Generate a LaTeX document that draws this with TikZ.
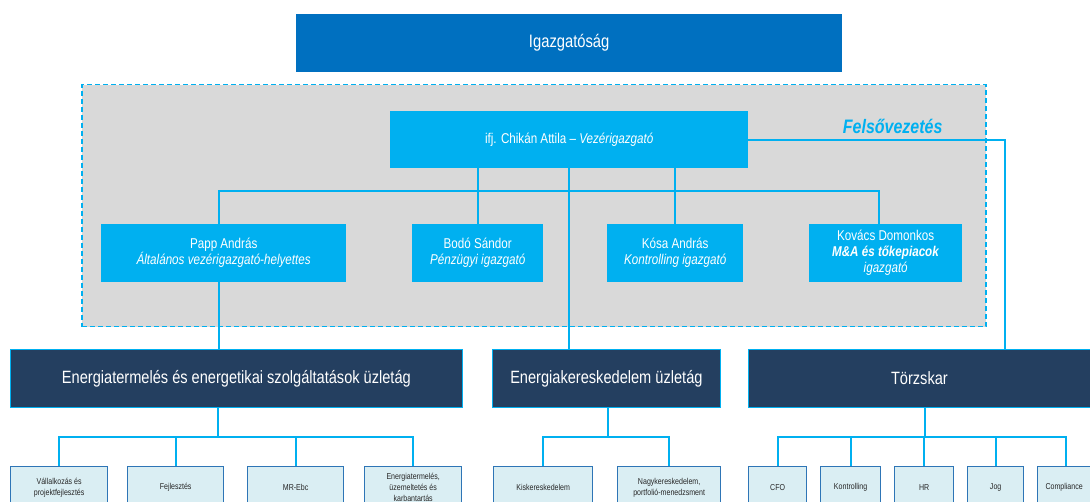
\documentclass[tikz,border=0pt]{standalone}
\usepackage{fontspec}
\setmainfont{Liberation Sans}[FakeStretch=0.82]
\definecolor{topblue}{HTML}{0070C0}
\definecolor{cyanb}{HTML}{00B0F0}
\definecolor{navy}{HTML}{243F60}
\definecolor{graybg}{HTML}{D9D9D9}
\definecolor{lightbox}{HTML}{DAEEF3}
\definecolor{boxline}{HTML}{2E75B6}
\tikzset{
  box/.style={anchor=north west, inner sep=1pt, align=center, text=white},
  topbox/.style={box, fill=topblue, font=\fontsize{18}{21}\selectfont},
  cyanbox/.style={box, fill=cyanb, font=\fontsize{14.2}{16}\selectfont},
  navybox/.style={box, fill=navy, draw=cyanb, line width=0.8pt, font=\fontsize{17.8}{20}\selectfont},
  leafbox/.style={box, fill=lightbox, draw=boxline, line width=1.3pt, text=black!85, font=\fontsize{8.6}{11.2}\selectfont},
  conn/.style={draw=cyanb, line width=1.8pt},
}
\newcommand{\bx}[6]{\node[#1, minimum width={#4-#2}, minimum height={#5-#3}] (#6) at (#2,#3)}
\begin{document}
\begin{tikzpicture}[x=1pt, y=-1pt]
\useasboundingbox (0,0) rectangle (1090,502);
% gray dashed area
\node[anchor=north west, fill=graybg, draw=cyanb, dash pattern=on 5pt off 3pt, line width=1.5pt, minimum width=904, minimum height=242, inner sep=0] (fv) at (81,84) {};
\node[anchor=base east, text=cyanb, font=\fontsize{19.5}{22}\selectfont\bfseries\itshape] (fvlabel) at (946,134) {Felsővezetés};

\bx{topbox}{296}{14}{842}{72}{igaz} {Igazgatóság};
\bx{cyanbox}{390}{111}{748}{168}{ceo} {ifj. Chikán Attila – \textit{Vezérigazgató}};

\bx{cyanbox}{101}{224}{346}{282}{papp} {Papp András\\\textit{Általános vezérigazgató-helyettes}};
\bx{cyanbox}{412}{224}{543}{282}{bodo} {Bodó Sándor\\\textit{Pénzügyi igazgató}};
\bx{cyanbox}{607}{224}{743}{282}{kosa} {Kósa András\\\textit{Kontrolling igazgató}};
\bx{cyanbox}{809}{224}{962}{282}{kovacs} {Kovács Domonkos\\\textbf{\textit{M\&A és tőkepiacok}}\\\textit{igazgató}};

\bx{navybox}{10}{349}{462}{407}{et} {Energiatermelés és energetikai szolgáltatások üzletág};
\bx{navybox}{492}{349}{720}{407}{ek} {Energiakereskedelem üzletág};
\bx{navybox}{748}{349}{1095}{407}{tk} {\hspace*{-5pt}Törzskar};

\bx{leafbox}{10}{466}{107}{508}{l1} {Vállalkozás és\\projektfejlesztés};
\bx{leafbox}{127}{466}{223}{508}{l2} {Fejlesztés};
\bx{leafbox}{247}{466}{343}{508}{l3} {MR-Ebc};
\bx{leafbox}{364}{466}{461}{508}{l4} {Energiatermelés,\\üzemeltetés és\\karbantartás};
\bx{leafbox}{493}{466}{592}{508}{l5} {Kiskereskedelem};
\bx{leafbox}{617}{466}{720}{508}{l6} {Nagykereskedelem,\\portfolió-menedzsment};
\bx{leafbox}{748}{466}{806}{508}{l7} {CFO};
\bx{leafbox}{820}{466}{880}{508}{l8} {Kontrolling};
\bx{leafbox}{894}{466}{953}{508}{l9} {HR};
\bx{leafbox}{967}{466}{1023}{508}{l10} {Jog};
\bx{leafbox}{1037}{466}{1095}{508}{l11} {\hspace*{-5pt}Compliance};

% coordinates for bus lines
\coordinate (busA) at (0,191);
\coordinate (busE) at (0,437);
\coordinate (pappx) at (219,0);
\coordinate (kovx) at (879,0);
\coordinate (etx) at (218,0);
\coordinate (ekx) at (608,0);
\coordinate (tkx) at (925,0);
\coordinate (tkin) at (1005,349);

% management connectors
\draw[conn] (ceo.south -| bodo.north) -- (bodo.north);
\draw[conn] (ceo.south -| kosa.north) -- (kosa.north);
\draw[conn] (pappx |- papp.north) |- (kovx |- busA) -- (kovx |- kovacs.north);
\draw[conn] (ceo.south) -- (ceo.south |- ek.north);
\draw[conn] (pappx |- papp.south) -- (pappx |- et.north);
\draw[conn] (ceo.east |- 0,140) -| (tkin);

% business unit connectors
\draw[conn] (etx |- et.south) -- (etx |- busE);
\draw[conn] (l1.north) |- (l4.north |- busE) -- (l4.north);
\draw[conn] (l2.north) -- (l2.north |- busE);
\draw[conn] (l3.north) -- (l3.north |- busE);

\draw[conn] (ekx |- ek.south) -- (ekx |- busE);
\draw[conn] (l5.north) |- (l6.north |- busE) -- (l6.north);

\draw[conn] (tkx |- tk.south) -- (tkx |- busE);
\draw[conn] (l7.north) |- (1066,437) -- (1066,466);
\draw[conn] (l8.north) -- (l8.north |- busE);
\draw[conn] (l9.north) -- (l9.north |- busE);
\draw[conn] (l10.north) -- (l10.north |- busE);
\end{tikzpicture}
\end{document}
